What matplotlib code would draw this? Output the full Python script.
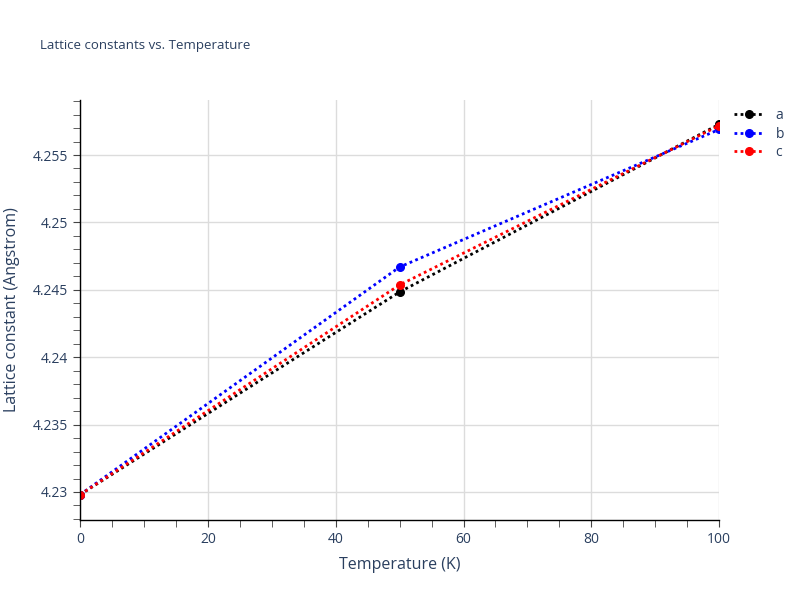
import numpy as np
import matplotlib
matplotlib.use("Agg")
import matplotlib.pyplot as plt
from matplotlib.ticker import MultipleLocator

plt.rcParams['font.family'] = ['Open Sans', 'DejaVu Sans']

temperature = [0, 50, 100]
lat_a = [4.22980, 4.24484, 4.25728]
lat_b = [4.22980, 4.24669, 4.25690]
lat_c = [4.22980, 4.24536, 4.25718]

series = [("a", lat_a, "black"), ("b", lat_b, "blue"), ("c", lat_c, "red")]

text_col = "#2a3f5f"
grid_col = "#dcdcdc"

fig = plt.figure(figsize=(8, 6), dpi=100)
ax = fig.add_axes([0.1, 0.1333, 0.799, 0.7])

for name, vals, col in series:
    ax.plot(temperature, vals, linestyle=(0, (1, 1.2)), linewidth=2, color=col,
            marker="o", markersize=5.5, label=name)

ax.set_xlim(0, 100)
ax.set_ylim(4.22792, 4.25908)

ax.xaxis.set_major_locator(MultipleLocator(20))
ax.xaxis.set_minor_locator(MultipleLocator(5))
ax.yaxis.set_minor_locator(MultipleLocator(0.001))
ax.set_yticks([4.23, 4.235, 4.24, 4.245, 4.25, 4.255])
ax.set_yticklabels(["4.23", "4.235", "4.24", "4.245", "4.25", "4.255"])

ax.grid(True, which="major", color=grid_col, linewidth=1)
ax.set_axisbelow(True)
for s in ["top", "right"]:
    ax.spines[s].set_visible(False)
for s in ["left", "bottom"]:
    ax.spines[s].set_color("black")
    ax.spines[s].set_linewidth(1)

ax.tick_params(which="both", direction="out", length=5, color="#444444",
               labelcolor=text_col, labelsize=10)

ax.set_xlabel("Temperature (K)", fontsize=11.5, color=text_col, labelpad=7)
ax.set_ylabel("Lattice constant (Angstrom)", fontsize=11.5, color=text_col, labelpad=9)

fig.text(0.05, 0.925, "Lattice constants vs. Temperature", fontsize=9.5,
         color=text_col, va="center")

leg = ax.legend(loc="upper left", bbox_to_anchor=(1.01, 1.0), frameon=False,
                fontsize=10, handlelength=2.2, labelspacing=0.25, borderaxespad=0.2)
for t in leg.get_texts():
    t.set_color(text_col)

fig.savefig("out.png", dpi=100)
